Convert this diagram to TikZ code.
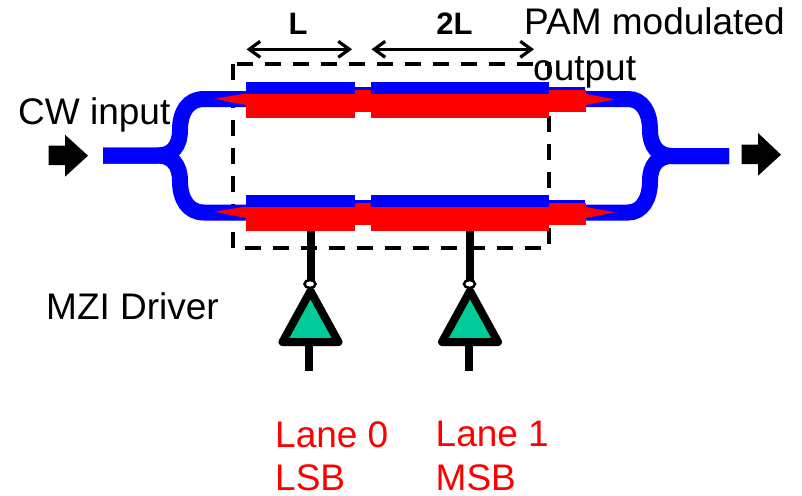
\documentclass[tikz,border=0pt]{standalone}
\usepackage{fontspec}
\setmainfont{Liberation Sans}
\usetikzlibrary{arrows.meta,shapes.geometric}
\definecolor{wgblue}{RGB}{0,0,255}
\definecolor{ampgreen}{RGB}{0,204,153}
\tikzset{
  lbl/.style={inner sep=0pt,anchor=base west,font=\fontsize{37}{40}\selectfont},
  lblred/.style={lbl,text=red},
  dim/.style={line width=3.2pt,black,{Straight Barb[length=11pt,width=16pt,line width=3.2pt]}-{Straight Barb[length=11pt,width=16pt,line width=3.2pt]}},
  dimlbl/.style={inner sep=0pt,anchor=base,font=\bfseries\fontsize{31}{34}\selectfont},
  wg/.style={wgblue,line width=16pt,line cap=butt},
  bluebar/.style={fill=wgblue,draw=none},
  redbar/.style={fill=red,draw=none},
  blockarrow/.style={fill=black,draw=none},
  ampstyle/.style={draw=black,fill=ampgreen,line width=8pt,line join=round},
  wire/.style={black,line width=8pt},
  bubble/.style={draw=black,fill=white,line width=2.5pt,ellipse,minimum width=11pt,minimum height=8pt,inner sep=0pt}
}
\begin{document}
\begin{tikzpicture}[x=1pt,y=-1pt]
\useasboundingbox (0,0) rectangle (802,495);
\fill[white] (0,0) rectangle (802,495);
% dashed box
\draw[black,line width=4pt,dash pattern=on 16pt off 12pt] (232.5,64) rectangle (548.5,248);
% waveguides
\draw[wg] (103,155.5) -- (158,155.5) .. controls (172,155.5) and (180,146) .. (180,130) .. controls (180,112) and (188,99) .. (204,99) -- (246,99);
\draw[wg] (103,155.5) -- (158,155.5) .. controls (172,155.5) and (180,165) .. (180,181) .. controls (180,199) and (188,212.5) .. (204,212.5) -- (246,212.5);
\draw[wg] (729,156) -- (672,156) .. controls (658,156) and (650,146) .. (650,130) .. controls (650,112) and (642,99) .. (628,99) -- (585,99);
\draw[wg] (729,156) -- (672,156) .. controls (658,156) and (650,165) .. (650,181) .. controls (650,199) and (642,212.5) .. (628,212.5) -- (585,212.5);
% drivers
\foreach \cx/\nm in {310.5/a,470/b}{
  \draw[ampstyle] (\cx,291) -- (\cx-28,342) -- (\cx+28,342) -- cycle;
  \draw[wire] (\cx,228) -- (\cx,281);
  \draw[wire] (\cx-1.5,345) -- (\cx-1.5,371);
  \node[bubble] (bub\nm) at (\cx-0.5,284) {};
}
% arms
\foreach \dy in {0,113}{
  \begin{scope}[yshift=-\dy pt]
    \fill[bluebar] (245.5,81.5) rectangle (355,94);
    \fill[bluebar] (355,87) rectangle (371,91);
    \fill[bluebar] (371,81.5) rectangle (549,94);
    \fill[bluebar] (549,87) rectangle (585,91);
    \fill[redbar] (246,93.5) rectangle (355,117.5);
    \fill[redbar] (355,90) rectangle (371,112);
    \fill[redbar] (371,93.5) rectangle (549,117.5);
    \fill[redbar] (549,90) rectangle (586,112);
    \fill[redbar] (214.5,98.7) -- (246,93.5) -- (246,105) -- cycle;
    \fill[redbar] (615,99.3) -- (586,94) -- (586,105) -- cycle;
  \end{scope}
}
% block arrows
\fill[blockarrow] (48.5,145.7) -- (65,145.7) -- (65,134.7) -- (88,155.7) -- (65,176.7) -- (65,165) -- (48.5,165) -- cycle;
\fill[blockarrow] (741.7,144.5) -- (758,144.5) -- (758,133) -- (781,154.7) -- (758,175.7) -- (758,164) -- (741.7,164) -- cycle;
% dimension arrows
\coordinate (l1) at (246.5,49.3);
\coordinate (l2) at (352,49.3);
\coordinate (m1) at (371.5,49.3);
\coordinate (m2) at (534,49.3);
\draw[dim] (l1) -- (l2);
\draw[dim] (m1) -- (m2);
\node[dimlbl] (ltxt) at (298,34.5) {L};
\node[dimlbl] (mtxt) at (454.5,34.5) {2L};
% labels
\node[lbl] (cw) at (18,124) {CW input};
\node[lbl] (pam) at (524,35) {PAM modulated};
\node[lbl] (out) at (533,80) {output};
\node[lbl] (mzi) at (46,319) {MZI Driver};
\node[lblred] (l0) at (275,447) {Lane 0};
\node[lblred] (l0b) at (275,490) {LSB};
\node[lblred] (l1t) at (435.5,446) {Lane 1};
\node[lblred] (l1b) at (435.5,490) {MSB};
\end{tikzpicture}
\end{document}
